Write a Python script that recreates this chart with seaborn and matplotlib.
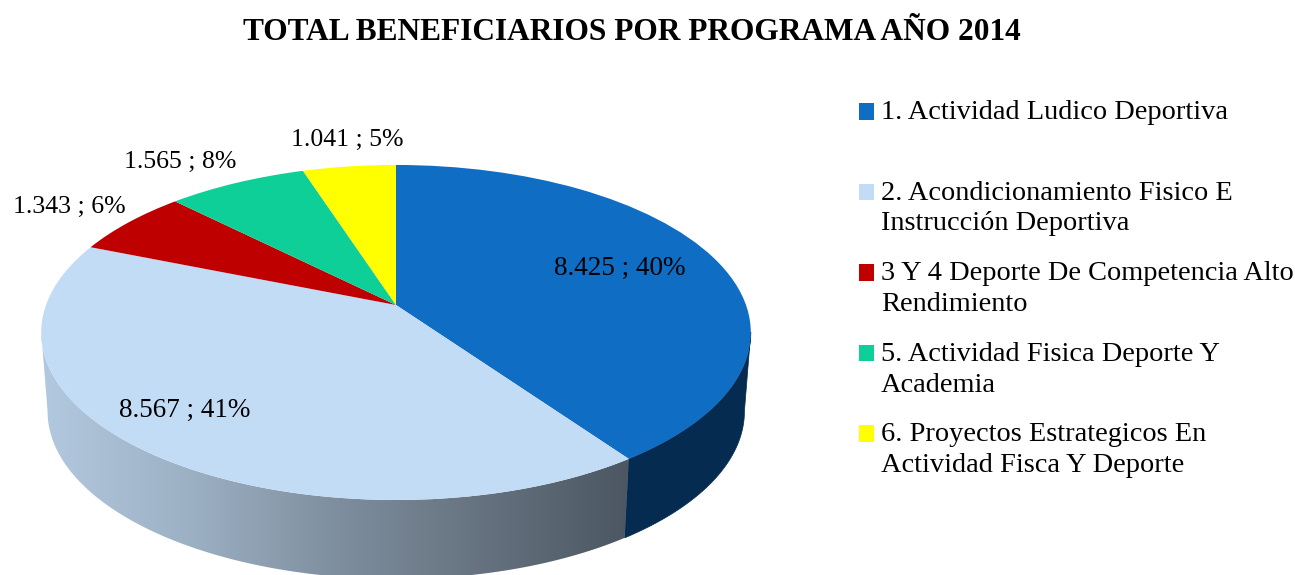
import numpy as np
import matplotlib
matplotlib.use("Agg")
import matplotlib.pyplot as plt
import seaborn as sns
from matplotlib.colors import LinearSegmentedColormap
from matplotlib.patches import Polygon
from matplotlib.transforms import Transform

# ---- data ----
programas = [
    "1. Actividad Ludico Deportiva\n",
    "2. Acondicionamiento Fisico E\nInstrucción Deportiva",
    "3 Y 4 Deporte De Competencia Alto\nRendimiento",
    "5. Actividad Fisica Deporte Y\nAcademia",
    "6. Proyectos Estrategicos En\nActividad Fisca Y Deporte",
]
beneficiarios = [8425, 8567, 1343, 1565, 1041]
etiquetas = ["8.425 ; 40%", "8.567 ; 41%", "1.343 ; 6%", "1.565 ; 8%", "1.041 ; 5%"]
colores = ["#0F6DC4", "#C3DCF5", "#BE0000", "#0FCF98", "#FFFF00"]
titulo = "TOTAL BENEFICIARIOS POR PROGRAMA AÑO 2014"

# ---- layout (pixels) ----
W, H = 1295, 575
CX, CY, SX, SY, K = 396.0, 305.0, 350.0, 163.0, 0.164
DEPTH, SHRINK = 79.0, 0.982
LABEL_XY = [(620, 268), (185, 410), (69, 207), (180, 162), (347, 140)]

sns.set_theme(style="white")
plt.rcParams["font.family"] = ["Liberation Serif", "DejaVu Serif"]


class Perspectiva(Transform):
    """Tilted-disc projection of the unit circle drawn by ax.pie."""
    input_dims = output_dims = 2
    is_affine = False

    def transform_non_affine(self, v):
        v = np.asarray(v, float)
        d = 1 + K * v[:, 1]
        return np.column_stack([CX + SX * v[:, 0] / d, CY - SY * v[:, 1] / d])


persp = Perspectiva()


def borde(a_ini, a_fin, n=200):
    """Rim points between two clockwise-from-top fractions of the pie."""
    t = np.linspace(a_ini, a_fin, n) * 2 * np.pi
    return persp.transform_non_affine(np.column_stack([np.sin(t), np.cos(t)]))


def pared(a_ini, a_fin):
    arriba = borde(a_ini, a_fin)
    abajo = arriba.copy()
    abajo[:, 0] = CX + SHRINK * (abajo[:, 0] - CX)
    abajo[:, 1] = abajo[:, 1] + DEPTH
    return np.vstack([arriba, abajo[::-1]])


fig = plt.figure(figsize=(W / 100, H / 100), dpi=100)
ax = fig.add_axes([0, 0, 1, 1])

frac = np.cumsum(beneficiarios) / np.sum(beneficiarios)

# side wall: dark blue for the first slice, shaded grey-blue for the second
ax.add_patch(Polygon(pared(0.276, frac[0]), closed=True, fc="#052C50", ec="#052C50", lw=0.5, zorder=1))
grad = LinearSegmentedColormap.from_list(
    "pared", ["#B3C9DF", "#9DB1C5", "#7F8F9F", "#66727F", "#4C5763"])
img = ax.imshow(np.linspace(0, 1, 256)[None, :], cmap=grad, aspect="auto",
                extent=(40, 628, H, 300), zorder=1)
clip = Polygon(pared(frac[0], 0.724), closed=True, transform=ax.transData, fc="none", ec="none")
ax.add_patch(clip)
img.set_clip_path(clip)

# top face
wedges, _ = ax.pie(beneficiarios, colors=colores, startangle=90, counterclock=False,
                   radius=1.0, wedgeprops=dict(lw=0))
for w in wedges:
    w.set_transform(persp + ax.transData)
    w.set_zorder(2)

ax.set_aspect("auto")
ax.set_xlim(0, W)
ax.set_ylim(H, 0)
ax.axis("off")

for (x, y), s in zip(LABEL_XY, etiquetas):
    ax.text(x, y, s, ha="center", va="center", fontsize=19.5 if y > 250 else 18.5,
            color="black", zorder=3)

ax.text(632, 33, titulo, ha="center", va="center", fontsize=22.6, fontweight="bold", color="black")

FS = 20.4
leg = ax.legend(wedges, programas, loc="upper left", bbox_to_anchor=(859, 100),
                bbox_transform=ax.transData, frameon=False, fontsize=FS,
                borderaxespad=0, borderpad=0, handlelength=0.53, handleheight=0.53,
                handletextpad=0.25, labelspacing=0.87, labelcolor="black")
for t in leg.get_texts():
    t.set_linespacing(1.31)
for h in leg.legend_handles:
    h.set_y(h.get_y() + 11.5)

fig.savefig("out.png", dpi=100, facecolor="white")
